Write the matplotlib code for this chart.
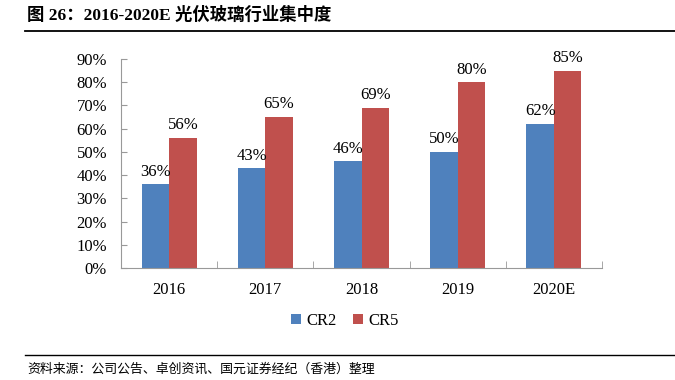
import numpy as np
import matplotlib.pyplot as plt
from matplotlib.lines import Line2D

# data
years = ['2016', '2017', '2018', '2019', '2020E']
cr2 = [0.36, 0.43, 0.46, 0.50, 0.62]
cr5 = [0.56, 0.65, 0.69, 0.80, 0.85]
yticks = [0, 0.1, 0.2, 0.3, 0.4, 0.5, 0.6, 0.7, 0.8, 0.9]

blue = '#4F81BD'
red = '#C0504D'
serif = ['Liberation Serif', 'Noto Sans CJK SC']

plt.rcParams['font.family'] = serif

fig = plt.figure(figsize=(6.75, 3.8), dpi=100)
ax = fig.add_axes([121 / 675, 1 - 268 / 380, 481 / 675, 209 / 380])

x = np.arange(len(years))
w = 0.286
b1 = ax.bar(x - w / 2, cr2, w, color=blue, label='CR2')
b2 = ax.bar(x + w / 2, cr5, w, color=red, label='CR5')

for rects, vals in ((b1, cr2), (b2, cr5)):
    for r, v in zip(rects, vals):
        ax.text(r.get_x() + r.get_width() / 2, v + 0.02, f'{v * 100:.0f}%',
                ha='center', va='bottom', fontsize=12)

ax.set_xlim(-0.5, len(years) - 0.5)
ax.set_ylim(0, 0.9)
ax.set_yticks(yticks)
ax.set_yticklabels([f'{t * 100:.0f}%' for t in yticks], fontsize=12)
ax.set_xticks(x)
ax.set_xticklabels(years, fontsize=12)
ax.set_xticks(np.arange(-0.5, len(years)), minor=True)
ax.tick_params(axis='x', which='major', length=0, pad=10)
ax.tick_params(axis='x', which='minor', direction='in', length=5, color='#999999')
ax.tick_params(axis='y', direction='in', length=4, color='#999999', pad=10)

for s in ('top', 'right'):
    ax.spines[s].set_visible(False)
for s in ('left', 'bottom'):
    ax.spines[s].set_color('#999999')

fig.legend(handles=[b1, b2], loc='center', bbox_to_anchor=(345 / 675, 1 - 321 / 380),
           ncol=2, frameon=False, fontsize=12, handlelength=0.6, handleheight=0.6,
           handletextpad=0.3, columnspacing=1.0)

# title and footer
fig.text(27 / 675, 1 - 15 / 380, '图 26：2016-2020E 光伏玻璃行业集中度',
         fontsize=12.5, fontweight='bold', va='center', ha='left',
         family=serif)
fig.add_artist(Line2D([25 / 675, 1], [1 - 31 / 380] * 2, color='black', lw=1.3))
fig.add_artist(Line2D([25 / 675, 1], [1 - 355 / 380] * 2, color='black', lw=1))
fig.text(27 / 675, 1 - 369 / 380, '资料来源：公司公告、卓创资讯、国元证券经纪（香港）整理',
         fontsize=9.3, va='center', ha='left', style='italic',
         family=['Noto Sans CJK SC', 'DejaVu Sans'])

fig.savefig('out.png', dpi=100)
